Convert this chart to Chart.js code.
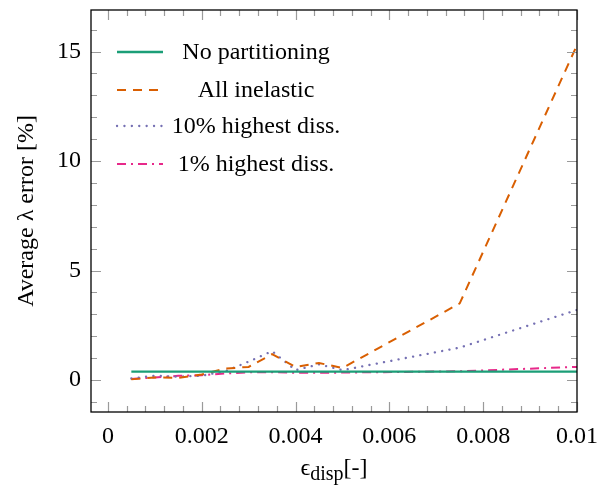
<!DOCTYPE html>
<html>
<head>
<meta charset="utf-8">
<script src="https://cdn.jsdelivr.net/npm/chart.js@4"></script>
<style>
  body { margin: 0; background: #fff; }
  #wrap { width: 599px; height: 486px; }
</style>
</head>
<body>
<div id="wrap"><canvas id="myChart"></canvas></div>
<script>
// values
const xs = [0.0005, 0.001, 0.0015, 0.002, 0.0025, 0.003, 0.0035, 0.004, 0.0045, 0.005, 0.0075, 0.01];
const noPartitioning = [0.38, 0.38, 0.38, 0.38, 0.38, 0.38, 0.38, 0.38, 0.38, 0.38, 0.38, 0.38];
const allInelastic   = [0.03, 0.12, 0.10, 0.25, 0.52, 0.60, 1.18, 0.60, 0.78, 0.55, 3.50, 15.3];
const highest10      = [0.07, 0.20, 0.15, 0.20, 0.40, 0.84, 1.32, 0.45, 0.72, 0.45, 1.48, 3.20];
const highest1       = [0.05, 0.12, 0.19, 0.22, 0.30, 0.35, 0.36, 0.33, 0.33, 0.34, 0.40, 0.60];

const xTicks = [0, 0.002, 0.004, 0.006, 0.008, 0.01];
const xTickLabels = ['0', '0.002', '0.004', '0.006', '0.008', '0.01'];
const yTicks = [0, 5, 10, 15];
const yTickLabels = ['0', '5', '10', '15'];

const FONT = '"Liberation Serif", "DejaVu Serif", serif';

function pts(ys) {
    return xs.map((x, i) => ({x: x, y: ys[i]}));
}

// frame + inward ticks on all four sides, like pgfplots
const frameTicks = {
    id: 'frameTicks',
    afterDraw(chart) {
        const {ctx, chartArea: a, scales: {x, y}} = chart;
        ctx.save();
        ctx.strokeStyle = '#9a9a9a';
        ctx.lineWidth = 1.2;
        ctx.beginPath();
        for (let i = 0; i <= 25; i++) {
            const v = i * 0.0004;
            const len = (i % 5 === 0) ? 10 : 6;
            const px = Math.round(x.getPixelForValue(v)) + 0.5;
            ctx.moveTo(px, a.bottom); ctx.lineTo(px, a.bottom - len);
            ctx.moveTo(px, a.top); ctx.lineTo(px, a.top + len);
        }
        for (let v = -1; v <= 16; v++) {
            const len = (v % 5 === 0) ? 10 : 6;
            const py = Math.round(y.getPixelForValue(v)) + 0.5;
            ctx.moveTo(a.left, py); ctx.lineTo(a.left + len, py);
            ctx.moveTo(a.right, py); ctx.lineTo(a.right - len, py);
        }
        ctx.stroke();

        ctx.strokeStyle = '#000';
        ctx.lineWidth = 1.3;
        ctx.strokeRect(a.left, a.top, a.right - a.left, a.bottom - a.top);

        // legend
        const rows = [52, 90, 126, 164];
        chart.data.datasets.forEach((ds, i) => {
            ctx.strokeStyle = ds.borderColor;
            ctx.lineWidth = ds.borderWidth;
            ctx.setLineDash(ds.borderDash || []);
            ctx.lineCap = ds.borderCapStyle || 'butt';
            ctx.beginPath();
            ctx.moveTo(117, rows[i]);
            ctx.lineTo(163, rows[i]);
            ctx.stroke();
            ctx.setLineDash([]);
            ctx.fillStyle = '#000';
            ctx.font = '24px ' + FONT;
            ctx.textAlign = 'center';
            ctx.textBaseline = 'alphabetic';
            ctx.fillText(ds.label, 256, rows[i] + 6.5);
        });

        // axis titles
        ctx.fillStyle = '#000';
        ctx.save();
        ctx.translate(33, 211);
        ctx.rotate(-Math.PI / 2);
        ctx.font = '24px ' + FONT;
        ctx.textAlign = 'center';
        ctx.fillText('Average \u03bb error [%]', 0, 0);
        ctx.restore();

        ctx.textAlign = 'left';
        const big = '24px ' + FONT, small = '20px ' + FONT;
        ctx.font = big;
        const wEps = ctx.measureText('\u03f5').width;
        const wBr = ctx.measureText('[-]').width;
        ctx.font = small;
        const wSub = ctx.measureText('disp').width;
        let cx = (a.left + a.right) / 2 - (wEps + wSub + wBr) / 2;
        ctx.font = big;
        ctx.fillText('\u03f5', cx, 475);
        cx += wEps;
        ctx.font = small;
        ctx.fillText('disp', cx, 480);
        cx += wSub;
        ctx.font = big;
        ctx.fillText('[-]', cx, 475);
        ctx.restore();
    }
};

const ctx = document.getElementById('myChart').getContext('2d');
const myChart = new Chart(ctx, {
    type: 'line',
    data: {
        datasets: [{
            label: 'No partitioning',
            data: pts(noPartitioning),
            borderColor: '#1b9e77',
            borderWidth: 2.3
        }, {
            label: 'All inelastic',
            data: pts(allInelastic),
            borderColor: '#d95f02',
            borderWidth: 2,
            borderDash: [9, 7]
        }, {
            label: '10% highest diss.',
            data: pts(highest10),
            borderColor: '#7570b3',
            borderWidth: 2.3,
            borderDash: [0.1, 7.3],
            borderCapStyle: 'round'
        }, {
            label: '1% highest diss.',
            data: pts(highest1),
            borderColor: '#e7298a',
            borderWidth: 2,
            borderDash: [9, 5, 2, 5]
        }]
    },
    plugins: [frameTicks],
    options: {
        responsive: true,
        maintainAspectRatio: false,
        animation: false,
        layout: { padding: { left: 0, right: 22, top: 10, bottom: 0 } },
        elements: {
            point: { radius: 0 },
            line: { tension: 0, fill: false }
        },
        plugins: {
            legend: { display: false },
            tooltip: { enabled: false }
        },
        scales: {
            x: {
                type: 'linear',
                min: -0.00036,
                max: 0.01,
                grid: { display: false, drawTicks: false, tickLength: 0 },
                border: { display: false },
                afterBuildTicks: s => { s.ticks = xTicks.map(v => ({value: v})); },
                afterFit: s => { s.height = 74; s.paddingLeft = 0; s.paddingRight = 0; },
                ticks: {
                    padding: 10,
                    color: '#000',
                    font: { family: FONT, size: 24 },
                    maxRotation: 0,
                    autoSkip: false,
                    callback: v => xTickLabels[xTicks.indexOf(v)]
                }
            },
            y: {
                min: -1.46,
                max: 16.9,
                grid: { display: false, drawTicks: false, tickLength: 0 },
                border: { display: false },
                afterBuildTicks: s => { s.ticks = yTicks.map(v => ({value: v})); },
                afterFit: s => { s.width = 91; s.paddingTop = 0; s.paddingBottom = 0; },
                ticks: {
                    padding: 10,
                    color: '#000',
                    font: { family: FONT, size: 24 },
                    callback: v => yTickLabels[yTicks.indexOf(v)]
                }
            }
        }
    }
});
</script>
</body>
</html>
